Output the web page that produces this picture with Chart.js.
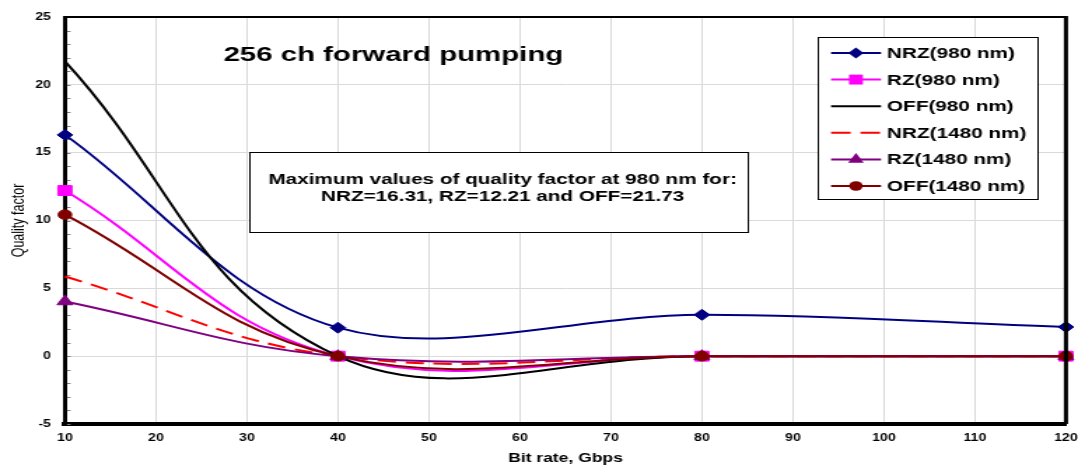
<!DOCTYPE html>
<html>
<head>
<meta charset="utf-8">
<script src="https://cdn.jsdelivr.net/npm/chart.js@4/dist/chart.umd.min.js"></script>
<style>
  html, body { margin: 0; padding: 0; background: #fff; overflow: hidden; }
  #wrap { width: 1078px; height: 466px; overflow: hidden; }
  /* the figure is laid out on a narrower canvas and widened horizontally */
  #c { display: block; transform: scaleX(1.4); transform-origin: 0 0; }
</style>
</head>
<body>
<div id="wrap"><canvas id="c" width="770" height="466"></canvas></div>
<script>
// Bit rates (Gbps) at which the quality factor was evaluated
const bitRates = [10, 40, 80, 120];

// Quality factor per modulation format and pump wavelength
const nrz980  = [16.31, 2.1, 3.05, 2.15];
const rz980   = [12.21, 0, 0, 0];
const off980  = [21.73, 0, 0, 0];
const nrz1480 = [5.87, 0, 0, 0];
const rz1480  = [4.03, 0, 0, 0];
const off1480 = [10.43, 0, 0, 0];

const seriesNames = ['NRZ(980 nm)', 'RZ(980 nm)', 'OFF(980 nm)', 'NRZ(1480 nm)', 'RZ(1480 nm)', 'OFF(1480 nm)'];

// Axis ticks
const xTicks = [10, 20, 30, 40, 50, 60, 70, 80, 90, 100, 110, 120];
const yTicks = [-5, 0, 5, 10, 15, 20, 25];

const titleText = '256 ch forward pumping';
const noteLines = [
  'Maximum values of quality factor at 980 nm for:',
  'NRZ=' + Math.max(...nrz980).toFixed(2) + ', RZ=' + Math.max(...rz980).toFixed(2) +
    ' and OFF=' + Math.max(...off980).toFixed(2)
];

const FONT = "'Liberation Sans', Arial, Helvetica, sans-serif";

const styles = [
  { color: '#000080', point: 'rectRot',  radius: 5.5, dash: [],      tension: 0.35 },
  { color: '#FF00FF', point: 'rect',     radius: 7,   dash: [],      tension: 0.4 },
  { color: '#000000', point: false,      radius: 0,   dash: [],      tension: 0.4 },
  { color: '#FF0000', point: false,      radius: 0,   dash: [13, 7], tension: 0.4 },
  { color: '#800080', point: 'triangle', radius: 6.5, dash: [],      tension: 0.4 },
  { color: '#800000', point: 'circle',   radius: 4.8, dash: [],      tension: 0.4 }
];

const seriesValues = [nrz980, rz980, off980, nrz1480, rz1480, off1480];

const datasets = seriesValues.map((vals, i) => ({
  label: seriesNames[i],
  data: bitRates.map((x, k) => ({ x: x, y: vals[k] })),
  borderColor: styles[i].color,
  backgroundColor: styles[i].color,
  pointBackgroundColor: styles[i].color,
  pointBorderColor: styles[i].color,
  pointStyle: styles[i].point || 'circle',
  pointRadius: styles[i].radius,
  pointBorderWidth: 1,
  borderWidth: 2,
  borderDash: styles[i].dash,
  tension: styles[i].tension,
  fill: false,
  clip: false,
  order: seriesValues.length - i
}));

function drawMarker(ctx, style, x, y, r, color) {
  if (!style || r <= 0) return;
  ctx.save();
  ctx.fillStyle = color;
  ctx.beginPath();
  if (style === 'rectRot') {
    ctx.moveTo(x, y - r); ctx.lineTo(x + r, y); ctx.lineTo(x, y + r); ctx.lineTo(x - r, y);
  } else if (style === 'rect') {
    const s = Math.SQRT1_2 * r;
    ctx.rect(x - s, y - s, 2 * s, 2 * s);
  } else if (style === 'triangle') {
    let a = 0;
    for (let k = 0; k < 3; k++) {
      const px = x + Math.sin(a) * r, py = y - Math.cos(a) * r;
      if (k === 0) ctx.moveTo(px, py); else ctx.lineTo(px, py);
      a += 2 * Math.PI / 3;
    }
  } else {
    ctx.arc(x, y, r, 0, Math.PI * 2);
  }
  ctx.closePath();
  ctx.fill();
  ctx.restore();
}

// Frame, minor ticks, title, note box and legend
const decorations = {
  id: 'decorations',
  beforeDatasetsDraw(chart) {
    const ctx = chart.ctx;
    const y = chart.scales.y;
    const a = chart.chartArea;
    ctx.save();
    ctx.strokeStyle = '#7f7f7f';
    ctx.lineWidth = 1;
    for (let v = -5; v <= 25; v++) {
      const py = Math.round(y.getPixelForValue(v)) + 0.5;
      ctx.beginPath();
      ctx.moveTo(a.left + 1.5, py);
      ctx.lineTo(a.left + 4, py);
      ctx.stroke();
    }
    // title
    ctx.fillStyle = '#000';
    ctx.font = 'bold 21px ' + FONT;
    ctx.textAlign = 'center';
    ctx.textBaseline = 'middle';
    ctx.fillText(titleText, 281, 55);
    ctx.restore();
  },
  afterDraw(chart) {
    const ctx = chart.ctx;
    const a = chart.chartArea;
    ctx.save();
    // top and right edges of the plot frame
    ctx.strokeStyle = '#000';
    ctx.lineWidth = 2;
    ctx.beginPath();
    ctx.moveTo(a.left, a.top);
    ctx.lineTo(a.right, a.top);
    ctx.stroke();
    ctx.lineWidth = 3;
    ctx.beginPath();
    ctx.moveTo(a.right, a.top - 1);
    ctx.lineTo(a.right, a.bottom);
    ctx.stroke();

    // note box
    const nb = { x: 178, y: 152, w: 356, h: 80 };
    ctx.fillStyle = '#fff';
    ctx.fillRect(nb.x, nb.y, nb.w, nb.h);
    ctx.strokeStyle = '#000';
    ctx.lineWidth = 1;
    ctx.strokeRect(nb.x + 0.5, nb.y + 0.5, nb.w, nb.h);
    ctx.fillStyle = '#000';
    ctx.font = 'bold 14.8px ' + FONT;
    ctx.textAlign = 'center';
    ctx.textBaseline = 'middle';
    ctx.fillText(noteLines[0], 359, 180);
    ctx.fillText(noteLines[1], 359, 197);

    // legend
    const lb = { x: 584, y: 37, w: 157, h: 162 };
    ctx.fillStyle = '#fff';
    ctx.fillRect(lb.x, lb.y, lb.w, lb.h);
    ctx.strokeStyle = '#000';
    ctx.lineWidth = 1;
    ctx.strokeRect(lb.x + 0.5, lb.y + 0.5, lb.w, lb.h);
    ctx.font = 'bold 14.8px ' + FONT;
    ctx.textAlign = 'left';
    ctx.textBaseline = 'middle';
    chart.data.datasets.forEach((ds, i) => {
      const ry = 53 + i * 26.6;
      ctx.save();
      ctx.strokeStyle = styles[i].color;
      ctx.lineWidth = 2;
      ctx.setLineDash(styles[i].dash.length ? [14, 7] : []);
      ctx.beginPath();
      ctx.moveTo(593.6, ry);
      ctx.lineTo(629.3, ry);
      ctx.stroke();
      ctx.restore();
      drawMarker(ctx, styles[i].point, 611.4, ry, styles[i].radius, styles[i].color);
      ctx.fillStyle = '#000';
      ctx.fillText(ds.label, 633.6, ry + 1);
    });
    ctx.restore();
  }
};

new Chart(document.getElementById('c'), {
  type: 'line',
  data: { datasets: datasets },
  plugins: [decorations],
  options: {
    responsive: false,
    animation: false,
    events: [],
    layout: { padding: { left: 0, right: 8.6, top: 17, bottom: 0 } },
    plugins: { legend: { display: false }, tooltip: { enabled: false } },
    scales: {
      x: {
        type: 'linear',
        min: xTicks[0],
        max: xTicks[xTicks.length - 1],
        afterBuildTicks(s) { s.ticks = xTicks.map(v => ({ value: v })); },
        ticks: { padding: 8, color: '#000', maxRotation: 0, autoSkip: false,
                 font: { family: FONT, size: 10, weight: 'bold' } },
        grid: { color: '#d9d9d9', lineWidth: 1, drawTicks: false },
        border: { color: '#000', width: 4 },
        title: { display: true, text: 'Bit rate, Gbps', color: '#000',
                 font: { family: FONT, size: 12.5, weight: 'bold' }, padding: { top: 0, bottom: 0 } },
        afterFit(s) { s.height = 42; s.paddingLeft = 0; s.paddingRight = 0; }
      },
      y: {
        min: yTicks[0],
        max: yTicks[yTicks.length - 1],
        afterBuildTicks(s) { s.ticks = yTicks.map(v => ({ value: v })); },
        ticks: { padding: 10, color: '#000',
                 font: { family: FONT, size: 10, weight: 'bold' } },
        grid: { color: '#d9d9d9', lineWidth: 1, drawTicks: false },
        border: { color: '#000', width: 3 },
        title: { display: true, text: 'Quality factor', color: '#000',
                 font: { family: FONT, size: 12.5, weight: 'normal' }, padding: { top: 6, bottom: 0 } },
        afterFit(s) { s.width = 46.4; s.paddingTop = 0; s.paddingBottom = 0; }
      }
    }
  }
});
</script>
</body>
</html>
